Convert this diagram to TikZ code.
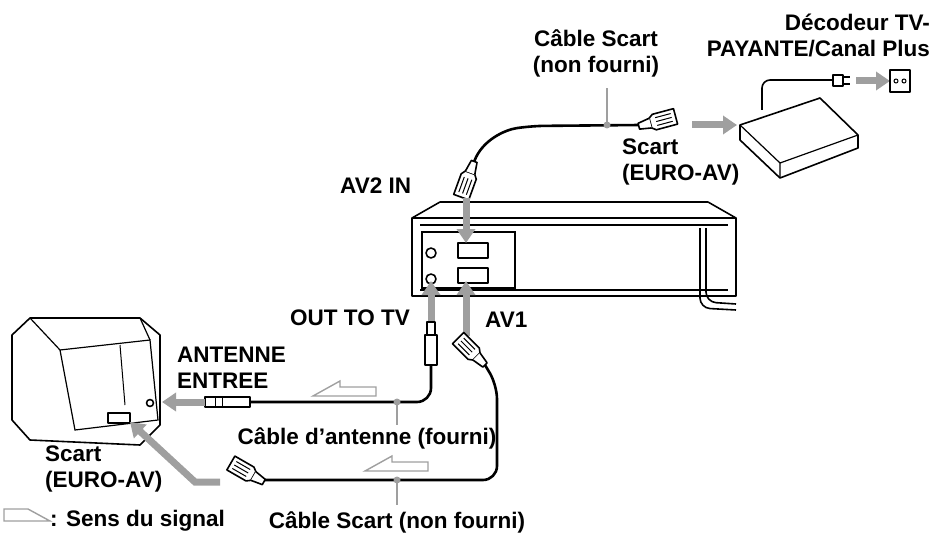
\documentclass[tikz,border=0pt]{standalone}
\usepackage{fontspec}
\setmainfont{Liberation Sans}
\usetikzlibrary{arrows.meta,positioning}
\tikzset{
    % labels
    lbl/.style={font=\fontsize{22.5}{26}\selectfont\bfseries, inner sep=0pt, align=center},
    % signal arrows (filled grey)
    sig/.style={draw=gray!75, line width=7pt, -{Triangle[length=14pt,width=18pt]}},
    % cables
    cab/.style={line width=2.6pt, rounded corners=14pt},
    lead/.style={gray!75, line width=1.6pt},
    hollow/.style={draw=gray!75, line width=1.4pt, fill=white},
    dev/.style={line width=1.6pt, fill=white, line join=round}
}
\newcommand*{\scartplug}[3]{% position, rotation, name
  \begin{scope}[shift={#1}, rotate=#2]
    \draw[dev] (-14,-8) -- (8,-8) -- (12,-5) -- (12,5) -- (8,8) -- (-14,8) -- cycle;
    \draw[line width=1pt] (-10,-4) -- (6,-4) (-10,0) -- (6,0) (-10,4) -- (6,4);
    \draw[dev] (12,-5) -- (24,-3) -- (24,3) -- (12,5);
    \coordinate (#3) at (24,0);
  \end{scope}}
\begin{document}
\begin{tikzpicture}[x=1pt,y=-1pt]
\useasboundingbox (0,0) rectangle (934,540);

% VCR
\draw[dev] (412,296) -- (412,218) -- (440,202) -- (708,202) -- (736,218) -- (736,296) -- cycle;
\draw[line width=1.2pt] (412,218) -- (736,218) (420,225) -- (728,225);
\draw[line width=1.2pt] (420,290) -- (728,290);
\draw[line width=1.2pt] (422,232) rectangle (515,288);
\draw[dev] (458,243) rectangle (488,258);
\draw[dev] (458,268) rectangle (488,283);
\draw[dev] (431,253) circle (5pt);
\draw[dev] (431,279) circle (5pt);
\draw[line width=1.6pt, rounded corners=10pt] (700,228) -- (700,308) -- (736,310);
\draw[line width=1.6pt, rounded corners=10pt] (706,228) -- (706,302) -- (736,304);

% TV
\draw[dev] (12,335) -- (30,318) -- (140,318) -- (160,335) -- (160,425) -- (140,445) -- (30,440) -- (12,420) -- cycle;
\draw[line width=1.2pt] (60,350) -- (150,340) -- (158,420) -- (75,430) -- cycle;
\draw[line width=1.2pt] (30,318) -- (60,350) (140,318) -- (150,340);
\draw[line width=1pt] (120,345) -- (125,405);
\draw[dev] (108,413) rectangle (130,423);
\draw[dev] (150,403) circle (3.5pt);

% decoder
\draw[line width=1.6pt, rounded corners=8pt] (762,110) -- (762,80) -- (835,80);
\draw[dev] (740,125) -- (820,98) -- (858,135) -- (858,148) -- (780,178) -- (740,140) -- cycle;
\draw[line width=1.2pt] (740,125) -- (780,163) -- (858,135) (780,163) -- (780,178);
\draw[dev] (833,75) rectangle (843,86);
\draw[line width=1.4pt] (843,77) -- (850,77) (843,84) -- (850,84);
\draw[sig] (856,81) -- (890,81);
\draw[dev] (890,70) rectangle (910,92);
\draw[line width=1pt] (896,81) circle (2pt) (904,81) circle (2pt);

% cables
\scartplug{(466,184)}{70}{pA}
\draw[cab] (pA) .. controls (482,140) and (505,130) .. (530,126) -- (640,125);
\scartplug{(662,120)}{-165}{pB}
\draw[sig] (692,125) -- (737,125);
\draw[sig] (466,198) -- (466,243);
\fill[gray!75] (607,125) circle (3.5pt);
\draw[lead] (607,125) -- (607,88);

\draw[sig] (431,345) -- (431,281);
\draw[sig] (466,336) -- (466,281);

\draw[dev] (427,322) rectangle (435,335);
\draw[dev] (425,335) rectangle (437,365);
\draw[cab] (431,365) -- (431,402) -- (250,402);
\draw[dev] (205,397) rectangle (250,407);
\draw[line width=1pt] (215,397) -- (215,407) (222,397) -- (222,407);
\draw[sig] (205,402) -- (162,402);
\fill[gray!75] (397,402) circle (3.5pt);
\draw[lead] (397,402) -- (397,425);
\scartplug{(468,348)}{-45}{pC}
\draw[cab] (pC) -- (497,385) -- (497,480) -- (262,480);
\scartplug{(243,470)}{-30}{pD}
\draw[sig] (220,482) -- (195,482) -- (130,422);
\fill[gray!75] (397,480) circle (3.5pt);
\draw[lead] (397,480) -- (397,505);

\draw[hollow] (313,396) -- (340,381) -- (340,387) -- (376,387) -- (376,396) -- cycle;
\draw[hollow] (365,471) -- (392,456) -- (392,462) -- (428,462) -- (428,471) -- cycle;
\draw[hollow] (50,521) -- (4,521) -- (4,509) -- (28,509) -- cycle;

% labels
\node[lbl] (cs1) at (596,53) {Câble Scart\\(non fourni)};
\node[lbl, align=right, anchor=east] (dec) at (930,35) {Décodeur TV-\\PAYANTE/Canal Plus};
\node[lbl, align=left, anchor=west] (sc1) at (622,162) {Scart\\(EURO-AV)};
\node[lbl, anchor=west] (av2) at (340,186) {AV2 IN};
\node[lbl, anchor=west] (out) at (290,318) {OUT TO TV};
\node[lbl, anchor=west] (av1) at (485,320) {AV1};
\node[lbl, align=left, anchor=west] (ant) at (177,368) {ANTENNE\\ENTREE};
\node[lbl, align=left, anchor=west] (sc2) at (45,469) {Scart\\(EURO-AV)};
\node[lbl] (ca) at (367,438) {Câble d’antenne (fourni)};
\node[lbl] (cs2) at (397,522) {Câble Scart (non fourni)};
\node[lbl, anchor=west] (leg) at (50,521) {: Sens du signal};
\end{tikzpicture}
\end{document}
